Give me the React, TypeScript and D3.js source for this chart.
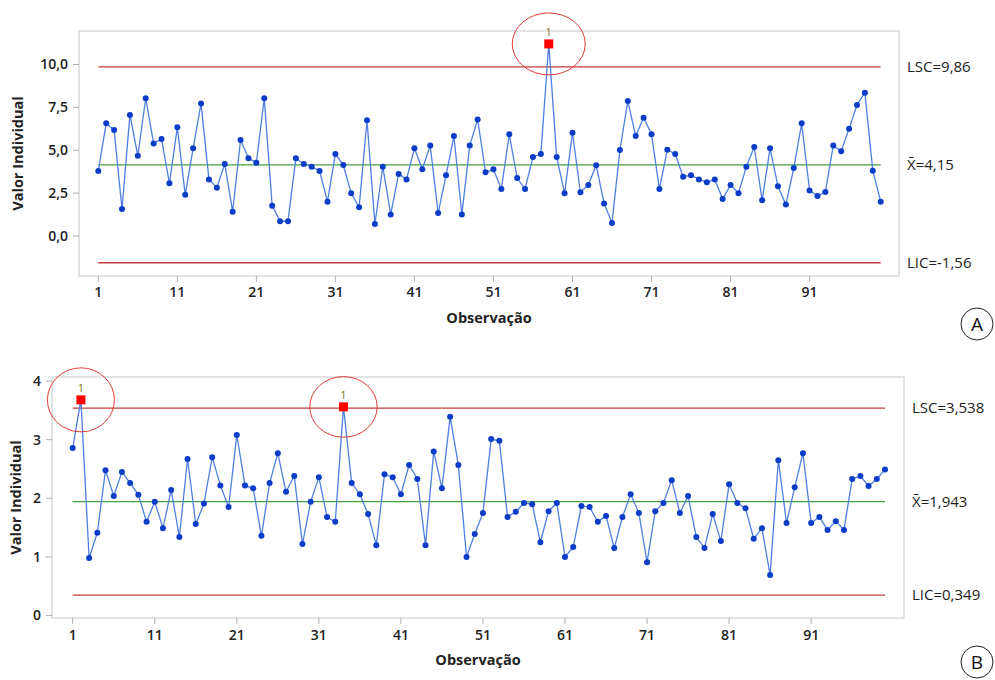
import React from "react";
import * as d3 from "d3";

// ---------- Data ----------
const valuesA: number[] = [
  3.79, 6.57, 6.18, 1.57, 7.06, 4.68, 8.03, 5.40, 5.66, 3.07,
  6.34, 2.40, 5.11, 7.72, 3.30, 2.82, 4.20, 1.42, 5.60, 4.53,
  4.27, 8.03, 1.77, 0.86, 0.86, 4.53, 4.20, 4.04, 3.79, 2.00,
  4.78, 4.14, 2.49, 1.67, 6.75, 0.70, 4.04, 1.26, 3.62, 3.30,
  5.11, 3.89, 5.27, 1.34, 3.54, 5.83, 1.26, 5.27, 6.80, 3.71,
  3.89, 2.74, 5.93, 3.38, 2.74, 4.61, 4.78, 11.20, 4.61, 2.49,
  6.02, 2.55, 2.97, 4.12, 1.90, 0.76, 5.01, 7.87, 5.83, 6.90,
  5.93, 2.74, 5.03, 4.78, 3.46, 3.54, 3.30, 3.13, 3.30, 2.16,
  2.97, 2.49, 4.04, 5.19, 2.08, 5.11, 2.90, 1.83, 3.96, 6.57,
  2.66, 2.33, 2.57, 5.27, 4.94, 6.26, 7.64, 8.36, 3.81, 2.00,
];
const limitsA = { lsc: 9.86, mean: 4.15, lic: -1.56 };
const labelsA = ["LSC=9,86", "X\u0304=4,15", "LIC=-1,56"];
const yTicksA = [0, 2.5, 5, 7.5, 10];
const yTickLabelsA = ["0,0", "2,5", "5,0", "7,5", "10,0"];
const flaggedA = [58];

const valuesB: number[] = [
  2.86, 3.68, 0.98, 1.41, 2.48, 2.04, 2.45, 2.26, 2.06, 1.60,
  1.94, 1.49, 2.14, 1.34, 2.67, 1.56, 1.91, 2.70, 2.22, 1.85,
  3.08, 2.22, 2.17, 1.36, 2.26, 2.77, 2.11, 2.38, 1.22, 1.94,
  2.36, 1.68, 1.60, 3.56, 2.26, 2.07, 1.73, 1.20, 2.41, 2.36,
  2.07, 2.57, 2.33, 1.20, 2.80, 2.17, 3.39, 2.57, 1.00, 1.39,
  1.75, 3.01, 2.98, 1.68, 1.77, 1.92, 1.90, 1.25, 1.78, 1.92,
  1.00, 1.17, 1.87, 1.85, 1.60, 1.70, 1.15, 1.68, 2.07, 1.75,
  0.91, 1.78, 1.92, 2.31, 1.75, 2.04, 1.34, 1.15, 1.73, 1.27,
  2.24, 1.92, 1.83, 1.31, 1.49, 0.69, 2.65, 1.58, 2.19, 2.77,
  1.58, 1.68, 1.46, 1.61, 1.46, 2.33, 2.38, 2.21, 2.33, 2.49,
];
const limitsB = { lsc: 3.538, mean: 1.943, lic: 0.349 };
const labelsB = ["LSC=3,538", "X\u0304=1,943", "LIC=0,349"];
const yTicksB = [0, 1, 2, 3, 4];
const yTickLabelsB = ["0", "1", "2", "3", "4"];
const flaggedB = [2, 34];

const xTicks = [1, 11, 21, 31, 41, 51, 61, 71, 81, 91];
const FONT = "'Open Sans', 'Noto Sans', sans-serif";

type ChartProps = {
  values: number[];
  limits: { lsc: number; mean: number; lic: number };
  labels: string[];
  yTicks: number[];
  yTickLabels: string[];
  flagged: number[];
  frame: { l: number; t: number; r: number; b: number };
  xRange: [number, number];
  yDomain: [number, number];
  yRange: [number, number];
  labelX: number;
  circles: { rx: number; ry: number; dx: number; dy: number }[];
  panel: string;
  panelY: number;
  titleX: number;
  titleY: number;
  xLabelY: number;
};

function ControlChart(p: ChartProps) {
  const x = d3.scaleLinear().domain([1, p.values.length]).range(p.xRange);
  const y = d3.scaleLinear().domain(p.yDomain).range(p.yRange);
  const line = d3
    .line<number>()
    .x((_, i) => x(i + 1))
    .y((d) => y(d));
  const x0 = x(1);
  const x1 = x(p.values.length);
  const f = p.frame;
  const cx = (f.l + f.r) / 2;
  return (
    <g>
      <rect x={f.l} y={f.t} width={f.r - f.l} height={f.b - f.t} fill="none" stroke="#c8c8c8" strokeWidth={1} />
      {p.yTicks.map((t, i) => (
        <g key={"y" + i}>
          <line x1={f.l - 6} x2={f.l} y1={y(t)} y2={y(t)} stroke="#b0b0b0" />
          <text x={f.l - 11} y={y(t)} dy="0.35em" textAnchor="end" fontSize={14} fontWeight={600} fill="#222" fontFamily={FONT}>
            {p.yTickLabels[i]}
          </text>
        </g>
      ))}
      {xTicks.map((t) => (
        <g key={"x" + t}>
          <line x1={x(t)} x2={x(t)} y1={f.b} y2={f.b + 6} stroke="#b0b0b0" />
          <text x={x(t)} y={p.xLabelY} dy="0.35em" textAnchor="middle" fontSize={14} fontWeight={600} fill="#222" fontFamily={FONT}>
            {t}
          </text>
        </g>
      ))}
      <line x1={x0} x2={x1} y1={y(p.limits.lsc)} y2={y(p.limits.lsc)} stroke="#c43c3c" strokeWidth={1.3} />
      <line x1={x0} x2={x1} y1={y(p.limits.lic)} y2={y(p.limits.lic)} stroke="#c43c3c" strokeWidth={1.3} />
      <line x1={x0} x2={x1} y1={y(p.limits.mean)} y2={y(p.limits.mean)} stroke="#3fa33f" strokeWidth={1.3} />
      <path d={line(p.values) || ""} fill="none" stroke="#4f7fe0" strokeWidth={1.3} />
      {p.values.map((v, i) =>
        p.flagged.includes(i + 1) ? null : (
          <circle key={i} cx={x(i + 1)} cy={y(v)} r={3} fill="#0a3cc8" />
        )
      )}
      {p.flagged.map((n, k) => (
        <g key={"f" + n}>
          <rect x={x(n) - 4.5} y={y(p.values[n - 1]) - 4.5} width={9} height={9} fill="#ff0000" />
          <text x={x(n)} y={y(p.values[n - 1]) - 12} dy="0.35em" textAnchor="middle" fontSize={11} fill="#7d6f1e" fontFamily={FONT}>
            1
          </text>
          <ellipse
            cx={x(n) + p.circles[k].dx}
            cy={y(p.values[n - 1]) + p.circles[k].dy}
            rx={p.circles[k].rx}
            ry={p.circles[k].ry}
            fill="none"
            stroke="#e23a3a"
            strokeWidth={1}
          />
        </g>
      ))}
      {[p.limits.lsc, p.limits.mean, p.limits.lic].map((v, i) => (
        <text key={"l" + i} x={p.labelX} y={y(v)} dy="0.35em" fontSize={15} fill="#222" fontFamily={FONT}>
          {p.labels[i]}
        </text>
      ))}
      <text
        transform={`translate(${p.titleX},${(f.t + f.b) / 2}) rotate(-90)`}
        textAnchor="middle"
        dy="0.35em"
        fontSize={14.5}
        fontWeight={700}
        fill="#222"
        fontFamily={FONT}
      >
        Valor Individual
      </text>
      <text x={cx} y={p.titleY} dy="0.35em" textAnchor="middle" fontSize={14.5} fontWeight={700} fill="#222" fontFamily={FONT}>
        Observação
      </text>
      <circle cx={977} cy={p.panelY} r={16} fill="#fff" stroke="#222" strokeWidth={1} />
      <text x={977} y={p.panelY} dy="0.36em" textAnchor="middle" fontSize={19} fill="#111" fontFamily={FONT}>
        {p.panel}
      </text>
    </g>
  );
}

export default function App() {
  return (
    <svg
      width={995}
      height={680}
      style={{ position: "absolute", left: 0, top: 0, background: "#fff" }}
    >
      <rect width={995} height={680} fill="#fff" />
      <ControlChart
        values={valuesA}
        limits={limitsA}
        labels={labelsA}
        yTicks={yTicksA}
        yTickLabels={yTickLabelsA}
        flagged={flaggedA}
        frame={{ l: 79, t: 31, r: 899, b: 276 }}
        xRange={[98.3, 880.7]}
        yDomain={[0, 10]}
        yRange={[236, 64.5]}
        labelX={907}
        circles={[{ rx: 36.5, ry: 31, dx: 0, dy: 0 }]}
        panel="A"
        panelY={324}
        titleX={18}
        titleY={318}
        xLabelY={292.5}
      />
      <ControlChart
        values={valuesB}
        limits={limitsB}
        labels={labelsB}
        yTicks={yTicksB}
        yTickLabels={yTickLabelsB}
        flagged={flaggedB}
        frame={{ l: 52, t: 377, r: 904, b: 618 }}
        xRange={[72.7, 885]}
        yDomain={[0, 4]}
        yRange={[615.5, 381.1]}
        labelX={912}
        circles={[
          { rx: 33.5, ry: 32, dx: 0, dy: 0 },
          { rx: 33.7, ry: 30.3, dx: 0, dy: 0 },
        ]}
        panel="B"
        panelY={662}
        titleX={16}
        titleY={660}
        xLabelY={635}
      />
    </svg>
  );
}
